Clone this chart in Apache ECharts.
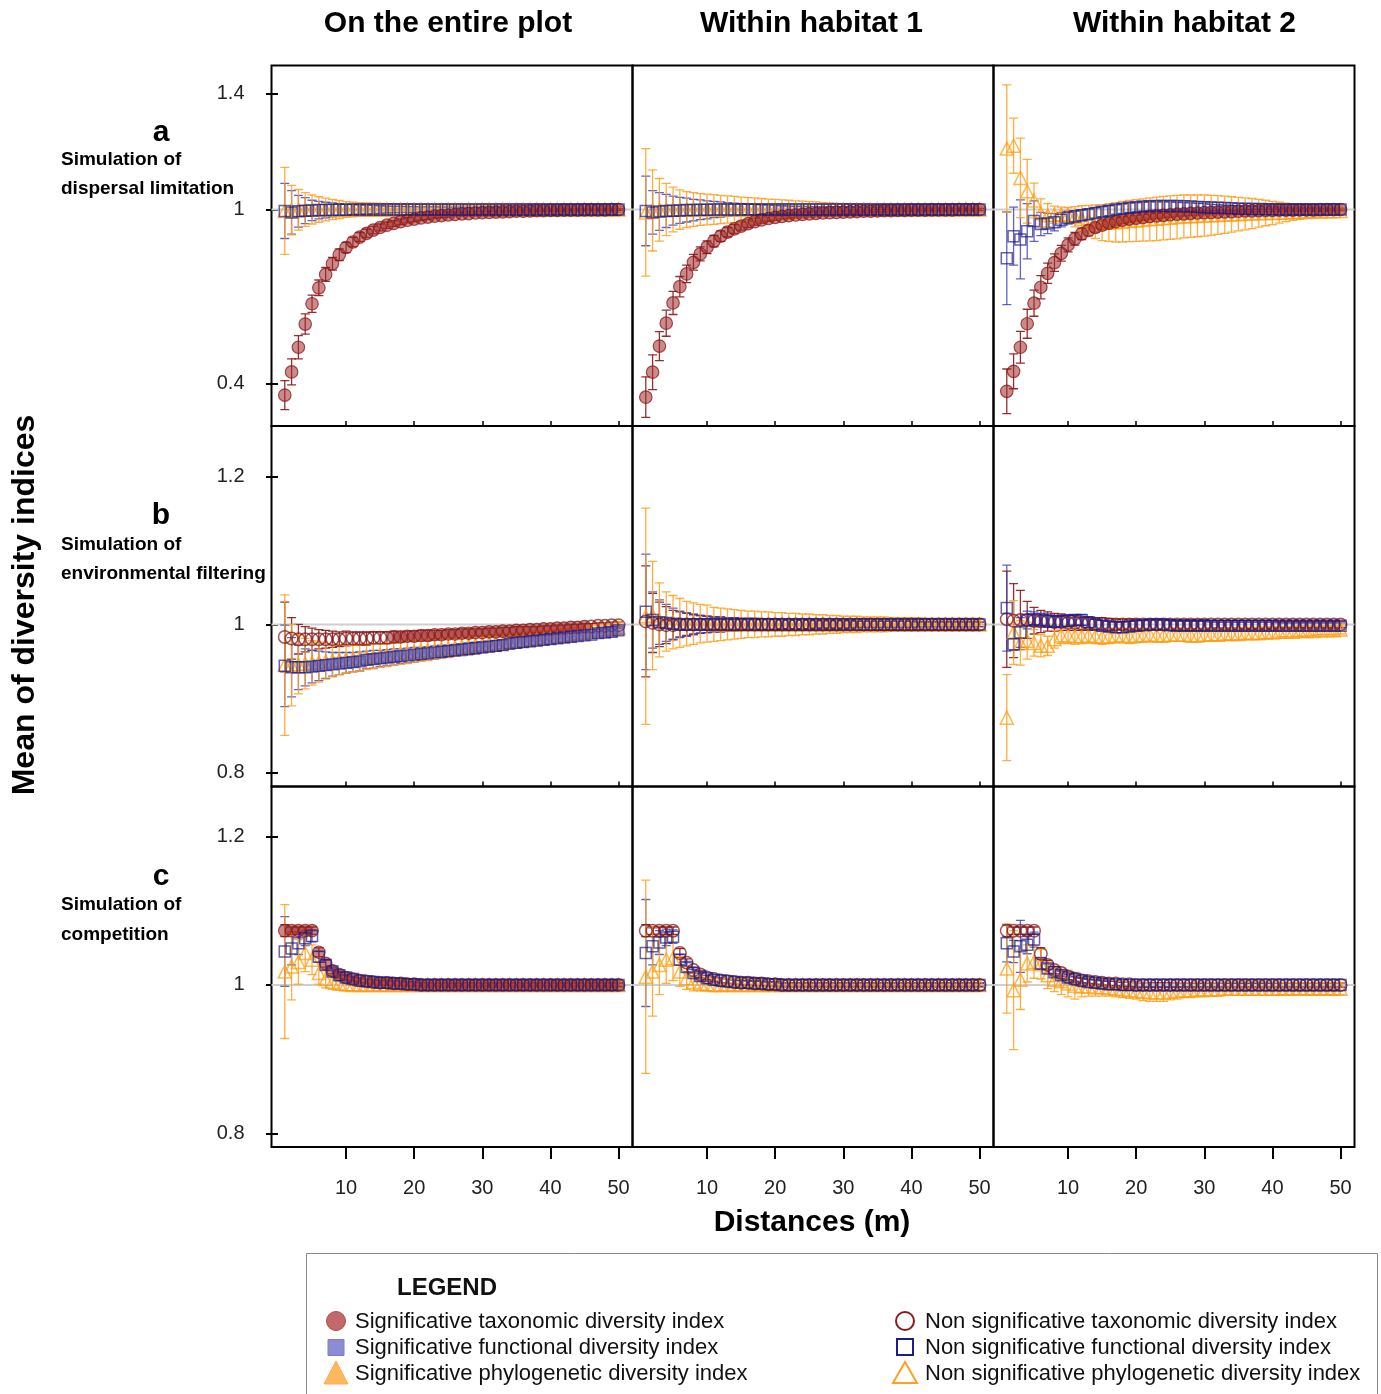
<!DOCTYPE html>
<html><head><meta charset="utf-8">
<script src="https://cdn.jsdelivr.net/npm/echarts@6/dist/echarts.min.js"></script>
<style>html,body{margin:0;padding:0;background:#fff}#chart{width:1381px;height:1394px}</style>
</head><body><div id="chart"></div>
<script>
// ---------------- DATA ----------------
const distances = [1,2,3,4,5,6,7,8,9,10,11,12,13,14,15,16,17,18,19,20,21,22,23,24,25,26,27,28,29,30,31,32,33,34,35,36,37,38,39,40,41,42,43,44,45,46,47,48,49,50];
const xTicks = [10,20,30,40,50];
const yTicksA = [0.4,1,1.4];
const yTicksBC = [0.8,1,1.2];
const refValue = 1;
const columnTitles = ['On the entire plot','Within habitat 1','Within habitat 2'];
const rowLetters = ['a','b','c'];
const rowLabels = [['Simulation of','dispersal limitation'],['Simulation of','environmental filtering'],['Simulation of','competition']];
const xTitle = 'Distances (m)';
const yTitle = 'Mean of diversity indices';
const legendTitle = 'LEGEND';
const legendSig = ['Significative taxonomic diversity index','Significative functional diversity index','Significative phylogenetic diversity index'];
const legendNonSig = ['Non significative taxonomic diversity index','Non significative functional diversity index','Non significative phylogenetic diversity index'];

// Row a : dispersal limitation
const a1Tax = [0.36,0.44,0.525,0.605,0.675,0.73,0.776,0.813,0.844,0.869,0.888,0.905,0.918,0.929,0.938,0.946,0.952,0.958,0.963,0.967,0.971,0.974,0.977,0.979,0.981,0.983,0.985,0.986,0.988,0.989,0.99,0.991,0.992,0.993,0.994,0.994,0.995,0.996,0.996,0.997,0.997,0.998,0.998,0.998,0.999,0.999,0.999,0.999,1,1];
const a1TaxErr = [0.05,0.045,0.04,0.035,0.03,0.027,0.024,0.022,0.02,0.018,0.016,0.015,0.014,0.013,0.012,0.011,0.01,0.01,0.009,0.009,0.008,0.008,0.007,0.007,0.007,0.006,0.006,0.006,0.005,0.005,0.005,0.005,0.004,0.004,0.004,0.004,0.004,0.003,0.003,0.003,0.003,0.003,0.003,0.003,0.002,0.002,0.002,0.002,0.002,0.002];
const a1Fun = [0.995,0.99,0.994,0.996,0.997,0.998,0.998,0.999,0.999,0.999,1,1,1,1,1,1,1,1,1,1,1,1,1,1,1,1,1,1,1,1,1,1,1,1,1,1,1,1,1,1,1,1,1,1,1,1,1,1,1,1];
const a1FunErr = [0.095,0.075,0.055,0.045,0.035,0.03,0.027,0.024,0.021,0.019,0.017,0.016,0.015,0.014,0.013,0.012,0.011,0.011,0.01,0.01,0.009,0.009,0.009,0.008,0.008,0.008,0.008,0.007,0.007,0.007,0.007,0.006,0.006,0.006,0.006,0.006,0.005,0.005,0.005,0.005,0.005,0.005,0.004,0.004,0.004,0.004,0.004,0.004,0.004,0.004];
const a1Phy = [0.995,0.998,0.999,1,1,1,1,1,1,1,1,1,1,1,1,1,1,1,1,1,1,1,1,1,1,1,1,1,1,1,1,1,1,1,1,1,1,1,1,1,1,1,1,1,1,1,1,1,1,1];
const a1PhyErr = [0.15,0.085,0.07,0.058,0.05,0.044,0.039,0.035,0.031,0.027,0.025,0.024,0.023,0.022,0.021,0.02,0.02,0.019,0.019,0.018,0.018,0.017,0.017,0.016,0.016,0.016,0.015,0.015,0.015,0.015,0.014,0.014,0.014,0.013,0.013,0.013,0.013,0.012,0.012,0.012,0.012,0.012,0.011,0.011,0.011,0.011,0.011,0.01,0.01,0.01];

const a2Tax = [0.353,0.439,0.529,0.608,0.678,0.734,0.778,0.818,0.847,0.87,0.891,0.908,0.922,0.933,0.943,0.951,0.958,0.964,0.969,0.973,0.976,0.979,0.981,0.983,0.985,0.987,0.988,0.989,0.99,0.991,0.992,0.993,0.994,0.994,0.995,0.996,0.996,0.997,0.997,0.998,0.998,0.998,0.999,0.999,0.999,0.999,1,1,1,1];
const a2TaxErr = [0.07,0.06,0.05,0.045,0.04,0.035,0.03,0.027,0.024,0.022,0.02,0.018,0.016,0.015,0.014,0.013,0.012,0.011,0.01,0.01,0.009,0.009,0.008,0.008,0.007,0.007,0.007,0.006,0.006,0.006,0.006,0.005,0.005,0.005,0.005,0.004,0.004,0.004,0.004,0.004,0.003,0.003,0.003,0.003,0.003,0.003,0.003,0.003,0.003,0.003];
const a2Fun = [0.995,0.99,0.993,0.995,0.996,0.997,0.998,0.998,0.999,0.999,1,1,1,1,1,1,1,1,1,1,1,1,1,1,1,1,1,1,1,1,1,1,1,1,1,1,1,1,1,1,1,1,1,1,1,1,1,1,1,1];
const a2FunErr = [0.12,0.075,0.065,0.057,0.05,0.045,0.041,0.037,0.034,0.031,0.028,0.026,0.024,0.022,0.02,0.019,0.018,0.016,0.015,0.014,0.013,0.012,0.011,0.011,0.01,0.01,0.009,0.009,0.009,0.008,0.008,0.008,0.007,0.007,0.007,0.007,0.006,0.006,0.006,0.006,0.005,0.005,0.005,0.005,0.005,0.005,0.004,0.004,0.004,0.004];
const a2Phy = [0.99,0.997,0.999,1,1,1,1,1,1,1,1,1,1,1,1,1,1,1,1,1,1,1,1,1,1,1,1,1,1,1,1,1,1,1,1,1,1,1,1,1,1,1,1,1,1,1,1,1,1,1];
const a2PhyErr = [0.22,0.14,0.108,0.09,0.077,0.068,0.062,0.058,0.055,0.053,0.051,0.049,0.047,0.045,0.043,0.041,0.04,0.038,0.036,0.035,0.033,0.032,0.03,0.029,0.027,0.026,0.024,0.023,0.021,0.02,0.019,0.018,0.017,0.016,0.015,0.014,0.014,0.013,0.012,0.012,0.011,0.011,0.01,0.01,0.01,0.009,0.009,0.009,0.008,0.008];

const a3Tax = [0.373,0.442,0.525,0.606,0.677,0.732,0.78,0.817,0.849,0.878,0.899,0.916,0.928,0.938,0.946,0.953,0.958,0.963,0.967,0.97,0.973,0.976,0.978,0.98,0.982,0.984,0.985,0.987,0.988,0.989,0.99,0.991,0.992,0.993,0.994,0.995,0.995,0.996,0.997,0.997,0.998,0.998,0.998,0.999,0.999,0.999,1,1,1,1];
const a3TaxErr = [0.077,0.06,0.055,0.05,0.045,0.04,0.035,0.03,0.027,0.024,0.022,0.02,0.018,0.016,0.015,0.014,0.013,0.012,0.011,0.01,0.01,0.009,0.009,0.008,0.008,0.008,0.007,0.007,0.007,0.006,0.006,0.006,0.006,0.005,0.005,0.005,0.005,0.004,0.004,0.004,0.004,0.004,0.003,0.003,0.003,0.003,0.003,0.003,0.003,0.003];
const a3Fun = [0.832,0.908,0.897,0.925,0.96,0.95,0.952,0.956,0.965,0.972,0.976,0.98,0.984,0.988,0.992,0.996,1,1.003,1.006,1.008,1.01,1.011,1.012,1.012,1.012,1.012,1.011,1.01,1.009,1.008,1.007,1.006,1.005,1.004,1.003,1.003,1.002,1.002,1.001,1.001,1,1,1,1,1,1,1,1,1,1];
const a3FunErr = [0.16,0.1,0.136,0.095,0.07,0.04,0.035,0.03,0.025,0.022,0.02,0.019,0.018,0.018,0.017,0.017,0.016,0.016,0.016,0.015,0.015,0.015,0.014,0.014,0.014,0.013,0.013,0.013,0.012,0.012,0.011,0.011,0.01,0.01,0.01,0.009,0.009,0.009,0.008,0.008,0.007,0.007,0.007,0.006,0.006,0.006,0.006,0.005,0.005,0.005];
const a3Phy = [1.21,1.22,1.109,1.063,1.031,0.987,0.98,0.982,0.983,0.982,0.975,0.968,0.962,0.958,0.955,0.955,0.956,0.958,0.96,0.962,0.964,0.966,0.968,0.97,0.972,0.974,0.976,0.977,0.978,0.979,0.98,0.981,0.982,0.983,0.984,0.985,0.986,0.987,0.988,0.988,0.989,0.99,0.991,0.991,0.992,0.993,0.993,0.994,0.994,0.995];
const a3PhyErr = [0.22,0.095,0.137,0.11,0.06,0.05,0.04,0.03,0.025,0.025,0.035,0.045,0.052,0.058,0.062,0.065,0.068,0.07,0.071,0.072,0.073,0.074,0.075,0.075,0.075,0.075,0.074,0.073,0.072,0.071,0.069,0.067,0.064,0.061,0.058,0.055,0.052,0.048,0.044,0.04,0.036,0.032,0.028,0.025,0.022,0.019,0.016,0.014,0.012,0.01];

// Row b : environmental filtering
const b1Tax = [0.983,0.981,0.98,0.98,0.98,0.98,0.98,0.98,0.98,0.981,0.981,0.981,0.981,0.982,0.982,0.982,0.983,0.983,0.984,0.984,0.985,0.985,0.986,0.986,0.987,0.987,0.988,0.988,0.989,0.989,0.99,0.99,0.991,0.991,0.992,0.992,0.993,0.993,0.994,0.994,0.995,0.995,0.996,0.996,0.997,0.997,0.998,0.998,0.999,0.999];
const b1TaxErr = [0.047,0.028,0.02,0.017,0.015,0.013,0.012,0.011,0.01,0.01,0.009,0.009,0.009,0.008,0.008,0.008,0.008,0.007,0.007,0.007,0.007,0.007,0.006,0.006,0.006,0.006,0.006,0.006,0.005,0.005,0.005,0.005,0.005,0.005,0.005,0.005,0.004,0.004,0.004,0.004,0.004,0.004,0.004,0.004,0.004,0.004,0.004,0.004,0.004,0.004];
const b1Fun = [0.944,0.942,0.942,0.942,0.943,0.944,0.945,0.946,0.947,0.948,0.949,0.95,0.952,0.953,0.954,0.955,0.956,0.957,0.958,0.959,0.96,0.961,0.962,0.963,0.964,0.965,0.966,0.967,0.968,0.969,0.97,0.971,0.972,0.974,0.975,0.976,0.977,0.978,0.979,0.98,0.981,0.982,0.983,0.984,0.985,0.986,0.988,0.989,0.99,0.992];
const b1FunErr = [0.055,0.04,0.03,0.025,0.022,0.02,0.018,0.016,0.015,0.014,0.013,0.013,0.012,0.012,0.011,0.011,0.011,0.01,0.01,0.01,0.009,0.009,0.009,0.009,0.008,0.008,0.008,0.008,0.008,0.007,0.007,0.007,0.007,0.007,0.007,0.006,0.006,0.006,0.006,0.006,0.006,0.006,0.005,0.005,0.005,0.005,0.005,0.005,0.005,0.005];
const b1Phy = [0.945,0.945,0.946,0.947,0.948,0.949,0.95,0.951,0.952,0.953,0.954,0.955,0.956,0.957,0.958,0.959,0.96,0.961,0.962,0.963,0.964,0.965,0.966,0.967,0.968,0.969,0.97,0.971,0.972,0.973,0.974,0.975,0.976,0.977,0.978,0.979,0.98,0.981,0.982,0.983,0.984,0.985,0.986,0.987,0.988,0.99,0.991,0.992,0.993,0.995];
const b1PhyErr = [0.095,0.055,0.04,0.034,0.03,0.027,0.024,0.022,0.02,0.019,0.018,0.018,0.017,0.017,0.016,0.016,0.015,0.015,0.015,0.014,0.014,0.014,0.013,0.013,0.013,0.012,0.012,0.012,0.012,0.011,0.011,0.011,0.011,0.01,0.01,0.01,0.01,0.01,0.009,0.009,0.009,0.009,0.009,0.008,0.008,0.008,0.008,0.008,0.007,0.007];

const b2Tax = [1.004,1.002,1,0.999,0.999,1,1,1,1,1,1,1,1,1,1,1,1,1,1,1,1,1,1,1,1,1,1,1,1,1,1,1,1,1,1,1,1,1,1,1,1,1,1,1,1,1,1,1,1,1];
const b2TaxErr = [0.075,0.04,0.03,0.025,0.02,0.017,0.015,0.013,0.012,0.011,0.01,0.01,0.009,0.009,0.008,0.008,0.008,0.007,0.007,0.007,0.006,0.006,0.006,0.006,0.006,0.005,0.005,0.005,0.005,0.005,0.005,0.004,0.004,0.004,0.004,0.004,0.004,0.004,0.004,0.004,0.003,0.003,0.003,0.003,0.003,0.003,0.003,0.003,0.003,0.003];
const b2Fun = [1.017,1.006,1.003,1.002,1.001,1,1,1,1,1,1,1,1,1,1,1,1,1,1,1,1,1,1,1,1,1,1,1,1,1,1,1,1,1,1,1,1,1,1,1,1,1,1,1,1,1,1,1,1,1];
const b2FunErr = [0.078,0.038,0.03,0.025,0.021,0.018,0.016,0.014,0.012,0.011,0.01,0.01,0.009,0.009,0.008,0.008,0.008,0.007,0.007,0.007,0.006,0.006,0.006,0.006,0.006,0.005,0.005,0.005,0.005,0.005,0.005,0.004,0.004,0.004,0.004,0.004,0.004,0.004,0.004,0.004,0.003,0.003,0.003,0.003,0.003,0.003,0.003,0.003,0.003,0.003];
const b2Phy = [1.011,1.012,1.006,1.004,1.003,1.002,1.001,1.001,1.001,1.001,1,1,1,1,1,1,1,1,1,1,1,1,1,1,1,1,1,1,1,1,1,1,1,1,1,1,1,1,1,1,1,1,1,1,1,1,1,1,1,1];
const b2PhyErr = [0.146,0.073,0.05,0.04,0.036,0.033,0.03,0.028,0.026,0.025,0.023,0.022,0.021,0.02,0.019,0.018,0.018,0.017,0.017,0.016,0.016,0.015,0.015,0.014,0.014,0.013,0.013,0.012,0.012,0.011,0.011,0.011,0.01,0.01,0.01,0.01,0.009,0.009,0.009,0.009,0.009,0.008,0.008,0.008,0.008,0.008,0.008,0.008,0.008,0.008];

const b3Tax = [1.007,1.005,1.006,1.006,1.005,1.004,1.004,1.003,1.003,1.002,1.002,1.001,1.001,1.001,1.001,1,1,1,1,1,1,1,1,1,1,1,1,1,1,1,1,1,1,1,1,1,1,1,1,1,1,1,1,1,1,1,1,1,1,1];
const b3TaxErr = [0.065,0.05,0.04,0.025,0.018,0.015,0.013,0.012,0.011,0.01,0.01,0.009,0.009,0.008,0.008,0.008,0.007,0.007,0.007,0.007,0.006,0.006,0.006,0.006,0.006,0.006,0.006,0.006,0.006,0.006,0.005,0.005,0.005,0.005,0.005,0.005,0.005,0.005,0.005,0.005,0.004,0.004,0.004,0.004,0.004,0.004,0.004,0.004,0.004,0.004];
const b3Fun = [1.022,0.973,0.989,1.006,1.007,1.006,1.005,1.004,1.004,1.005,1.006,1.006,1.003,1,0.998,0.997,0.996,0.996,0.997,0.998,0.999,1,1,1,0.999,0.998,0.998,0.998,0.998,0.998,0.998,0.998,0.998,0.998,0.998,0.998,0.998,0.998,0.998,0.998,0.998,0.998,0.998,0.998,0.998,0.998,0.998,0.998,0.998,0.998];
const b3FunErr = [0.058,0.008,0.02,0.012,0.01,0.009,0.009,0.008,0.008,0.008,0.007,0.007,0.007,0.007,0.007,0.007,0.007,0.007,0.007,0.007,0.006,0.006,0.006,0.006,0.006,0.006,0.006,0.006,0.006,0.006,0.005,0.005,0.005,0.005,0.005,0.005,0.005,0.005,0.005,0.005,0.004,0.004,0.004,0.004,0.004,0.004,0.004,0.004,0.004,0.004];
const b3Phy = [0.874,0.989,0.975,0.978,0.975,0.971,0.971,0.98,0.985,0.985,0.984,0.984,0.985,0.984,0.983,0.984,0.985,0.985,0.984,0.985,0.985,0.986,0.985,0.985,0.986,0.986,0.986,0.985,0.985,0.986,0.986,0.986,0.987,0.987,0.987,0.988,0.988,0.988,0.989,0.989,0.99,0.99,0.99,0.991,0.991,0.991,0.992,0.992,0.992,0.993];
const b3PhyErr = [0.058,0.043,0.03,0.025,0.018,0.015,0.013,0.012,0.011,0.011,0.011,0.01,0.01,0.01,0.01,0.01,0.01,0.01,0.01,0.01,0.009,0.009,0.009,0.009,0.009,0.009,0.009,0.009,0.009,0.009,0.008,0.008,0.008,0.008,0.008,0.008,0.008,0.008,0.008,0.008,0.007,0.007,0.007,0.007,0.007,0.006,0.006,0.006,0.006,0.006];

// Row c : competition
const c1Tax = [1.073,1.073,1.073,1.073,1.073,1.044,1.029,1.019,1.014,1.01,1.008,1.006,1.005,1.004,1.003,1.003,1.002,1.002,1.001,1.001,1,1,1,1,1,1,1,1,1,1,1,1,1,1,1,1,1,1,1,1,1,1,1,1,1,1,1,1,1,1];
const c1TaxErr = [0.008,0.005,0.005,0.005,0.005,0.006,0.005,0.004,0.004,0.003,0.003,0.003,0.003,0.003,0.003,0.003,0.003,0.003,0.003,0.003,0.002,0.002,0.002,0.002,0.002,0.002,0.002,0.002,0.002,0.002,0.002,0.002,0.002,0.002,0.002,0.002,0.002,0.002,0.002,0.002,0.002,0.002,0.002,0.002,0.002,0.002,0.002,0.002,0.002,0.002];
const c1Fun = [1.045,1.049,1.056,1.063,1.066,1.038,1.027,1.018,1.013,1.01,1.008,1.006,1.005,1.004,1.003,1.003,1.002,1.002,1.001,1.001,1,1,1,1,1,1,1,1,1,1,1,1,1,1,1,1,1,1,1,1,1,1,1,1,1,1,1,1,1,1];
const c1FunErr = [0.047,0.022,0.015,0.01,0.008,0.007,0.006,0.005,0.004,0.004,0.003,0.003,0.003,0.003,0.003,0.003,0.003,0.003,0.003,0.003,0.003,0.003,0.003,0.003,0.003,0.003,0.003,0.003,0.003,0.003,0.003,0.003,0.003,0.003,0.003,0.003,0.003,0.003,0.003,0.003,0.003,0.003,0.003,0.003,0.003,0.003,0.003,0.003,0.003,0.003];
const c1Phy = [1.018,1.025,1.031,1.043,1.034,1.016,1.008,1.004,1.002,1.001,1,1,1,1,1,1,1,1,1,1,1,1,1,1,1,1,1,1,1,1,1,1,1,1,1,1,1,1,1,1,1,1,1,1,1,1,1,1,1,1];
const c1PhyErr = [0.09,0.045,0.03,0.025,0.02,0.015,0.012,0.01,0.009,0.009,0.008,0.008,0.008,0.008,0.008,0.008,0.008,0.008,0.008,0.008,0.007,0.007,0.007,0.007,0.007,0.007,0.007,0.007,0.007,0.007,0.007,0.007,0.007,0.007,0.007,0.007,0.007,0.007,0.007,0.007,0.006,0.006,0.006,0.006,0.006,0.006,0.006,0.006,0.006,0.006];

const c2Tax = [1.073,1.073,1.073,1.073,1.073,1.043,1.03,1.02,1.014,1.01,1.008,1.006,1.005,1.004,1.003,1.003,1.002,1.002,1.001,1.001,1,1,1,1,1,1,1,1,1,1,1,1,1,1,1,1,1,1,1,1,1,1,1,1,1,1,1,1,1,1];
const c2TaxErr = [0.008,0.005,0.005,0.005,0.005,0.006,0.005,0.004,0.004,0.003,0.003,0.003,0.003,0.003,0.003,0.003,0.003,0.003,0.003,0.003,0.002,0.002,0.002,0.002,0.002,0.002,0.002,0.002,0.002,0.002,0.002,0.002,0.002,0.002,0.002,0.002,0.002,0.002,0.002,0.002,0.002,0.002,0.002,0.002,0.002,0.002,0.002,0.002,0.002,0.002];
const c2Fun = [1.043,1.052,1.057,1.064,1.065,1.034,1.024,1.016,1.012,1.009,1.007,1.006,1.005,1.004,1.003,1.003,1.002,1.002,1.001,1.001,1,1,1,1,1,1,1,1,1,1,1,1,1,1,1,1,1,1,1,1,1,1,1,1,1,1,1,1,1,1];
const c2FunErr = [0.072,0.025,0.016,0.011,0.009,0.007,0.006,0.005,0.004,0.004,0.003,0.003,0.003,0.003,0.003,0.003,0.003,0.003,0.003,0.003,0.003,0.003,0.003,0.003,0.003,0.003,0.003,0.003,0.003,0.003,0.003,0.003,0.003,0.003,0.003,0.003,0.003,0.003,0.003,0.003,0.003,0.003,0.003,0.003,0.003,0.003,0.003,0.003,0.003,0.003];
const c2Phy = [1.011,1.018,1.027,1.034,1.036,1.018,1.009,1.004,1.002,1.001,1,1,1,1,1,1,1,1,1,1,1,1,1,1,1,1,1,1,1,1,1,1,1,1,1,1,1,1,1,1,1,1,1,1,1,1,1,1,1,1];
const c2PhyErr = [0.13,0.06,0.04,0.032,0.03,0.02,0.015,0.012,0.01,0.009,0.009,0.008,0.008,0.008,0.008,0.008,0.008,0.008,0.008,0.008,0.007,0.007,0.007,0.007,0.007,0.007,0.007,0.007,0.007,0.007,0.007,0.007,0.007,0.007,0.007,0.007,0.007,0.007,0.007,0.007,0.007,0.007,0.007,0.007,0.007,0.007,0.007,0.007,0.007,0.007];

const c3Tax = [1.073,1.073,1.073,1.073,1.073,1.042,1.027,1.02,1.016,1.011,1.008,1.006,1.005,1.004,1.003,1.002,1.002,1.001,1.001,1,1,1,1,1,1,1,1,1,1,1,1,1,1,1,1,1,1,1,1,1,1,1,1,1,1,1,1,1,1,1];
const c3TaxErr = [0.008,0.005,0.005,0.005,0.005,0.008,0.006,0.005,0.004,0.004,0.003,0.003,0.003,0.003,0.003,0.003,0.003,0.003,0.003,0.003,0.003,0.003,0.003,0.003,0.003,0.003,0.003,0.003,0.003,0.003,0.003,0.003,0.003,0.003,0.003,0.003,0.003,0.003,0.003,0.003,0.003,0.003,0.003,0.003,0.003,0.003,0.003,0.003,0.003,0.003];
const c3Fun = [1.056,1.045,1.052,1.054,1.061,1.029,1.022,1.017,1.013,1.01,1.008,1.006,1.004,1.003,1.002,1.001,1.001,1,1,1,1,1,1,1,1,1,1,1,1,1,1,1,1,1,1,1,1,1,1,1,1,1,1,1,1,1,1,1,1,1];
const c3FunErr = [0.025,0.015,0.035,0.012,0.01,0.008,0.006,0.005,0.005,0.004,0.004,0.004,0.004,0.004,0.004,0.004,0.004,0.004,0.004,0.004,0.003,0.003,0.003,0.003,0.003,0.003,0.003,0.003,0.003,0.003,0.003,0.003,0.003,0.003,0.003,0.003,0.003,0.003,0.003,0.003,0.003,0.003,0.003,0.003,0.003,0.003,0.003,0.003,0.003,0.003];
const c3Phy = [1.022,0.993,1.007,1.029,1.031,1.028,1.013,1.007,1.005,1.002,0.999,0.998,0.998,0.997,0.997,0.996,0.995,0.994,0.993,0.992,0.991,0.99,0.99,0.99,0.991,0.992,0.993,0.993,0.994,0.994,0.994,0.994,0.995,0.995,0.995,0.995,0.995,0.995,0.995,0.995,0.995,0.995,0.995,0.995,0.995,0.995,0.995,0.995,0.995,0.995];
const c3PhyErr = [0.06,0.08,0.04,0.025,0.022,0.02,0.018,0.016,0.018,0.018,0.018,0.014,0.013,0.012,0.012,0.011,0.011,0.011,0.011,0.011,0.012,0.012,0.012,0.012,0.011,0.011,0.01,0.01,0.01,0.01,0.009,0.009,0.009,0.009,0.009,0.009,0.009,0.009,0.009,0.009,0.008,0.008,0.008,0.008,0.008,0.008,0.008,0.008,0.008,0.008];

// Significant distance ranges [from, to] (filled markers)
const a1TaxSig = [[1,50]], a1FunSig = [], a1PhySig = [];
const a2TaxSig = [[1,50]], a2FunSig = [], a2PhySig = [];
const a3TaxSig = [[1,50]], a3FunSig = [], a3PhySig = [];
const b1TaxSig = [[17,45]], b1FunSig = [[5,50]], b1PhySig = [];
const b2TaxSig = [], b2FunSig = [], b2PhySig = [];
const b3TaxSig = [], b3FunSig = [], b3PhySig = [];
const c1TaxSig = [[1,50]], c1FunSig = [], c1PhySig = [];
const c2TaxSig = [], c2FunSig = [], c2PhySig = [];
const c3TaxSig = [], c3FunSig = [], c3PhySig = [];

// ---------------- LAYOUT / STYLE ----------------
const FONT = "'Liberation Sans', Arial, Helvetica, sans-serif";
const GRID_LEFT0 = 271.5, COL_W = 361, ROW_TOPS = [65.5, 426, 786.5], ROW_H = 360.5;
const Y_RANGES = [[0.2535, 1.4966], [0.781, 1.268], [0.782, 1.267]];
const X_RANGE = [-0.95, 52.05];

const STYLES = {
  tax: {symbol:'circle', size:12.5, stroke:'rgba(130,20,20,0.9)', fill:'rgba(160,40,40,0.68)', err:'rgba(139,26,26,0.9)'},
  fun: {symbol:'rect', size:11, stroke:'rgba(25,25,135,0.85)', fill:'rgba(80,80,190,0.6)', err:'rgba(60,60,180,0.8)'},
  phy: {symbol:'triangle', size:13, stroke:'rgba(255,155,10,0.9)', fill:'rgba(255,170,60,0.7)', err:'rgba(255,160,30,0.85)'}
};
// drawing order (bottom -> top)
const ERR_ORDER = ['tax','fun','phy'];
const MARK_ORDER = ['phy','tax','fun'];

const panels = [
  {r:0,c:0, tax:[a1Tax,a1TaxErr,a1TaxSig], fun:[a1Fun,a1FunErr,a1FunSig], phy:[a1Phy,a1PhyErr,a1PhySig]},
  {r:0,c:1, tax:[a2Tax,a2TaxErr,a2TaxSig], fun:[a2Fun,a2FunErr,a2FunSig], phy:[a2Phy,a2PhyErr,a2PhySig]},
  {r:0,c:2, tax:[a3Tax,a3TaxErr,a3TaxSig], fun:[a3Fun,a3FunErr,a3FunSig], phy:[a3Phy,a3PhyErr,a3PhySig]},
  {r:1,c:0, tax:[b1Tax,b1TaxErr,b1TaxSig], fun:[b1Fun,b1FunErr,b1FunSig], phy:[b1Phy,b1PhyErr,b1PhySig]},
  {r:1,c:1, tax:[b2Tax,b2TaxErr,b2TaxSig], fun:[b2Fun,b2FunErr,b2FunSig], phy:[b2Phy,b2PhyErr,b2PhySig]},
  {r:1,c:2, tax:[b3Tax,b3TaxErr,b3TaxSig], fun:[b3Fun,b3FunErr,b3FunSig], phy:[b3Phy,b3PhyErr,b3PhySig]},
  {r:2,c:0, tax:[c1Tax,c1TaxErr,c1TaxSig], fun:[c1Fun,c1FunErr,c1FunSig], phy:[c1Phy,c1PhyErr,c1PhySig]},
  {r:2,c:1, tax:[c2Tax,c2TaxErr,c2TaxSig], fun:[c2Fun,c2FunErr,c2FunSig], phy:[c2Phy,c2PhyErr,c2PhySig]},
  {r:2,c:2, tax:[c3Tax,c3TaxErr,c3TaxSig], fun:[c3Fun,c3FunErr,c3FunSig], phy:[c3Phy,c3PhyErr,c3PhySig]}
];

function isSig(ranges, x){ return ranges.some(([a,b]) => x >= a && x <= b); }

const grids = [], xAxes = [], yAxes = [], series = [];
panels.forEach((p, k) => {
  const bottom = p.r === 2, left = p.c === 0;
  const yT = p.r === 0 ? yTicksA : yTicksBC;
  grids.push({left: GRID_LEFT0 + p.c*COL_W, top: ROW_TOPS[p.r], width: COL_W, height: ROW_H,
    show: true, borderColor: '#000', borderWidth: 2, backgroundColor: 'transparent'});
  xAxes.push({gridIndex:k, type:'value', min:X_RANGE[0], max:X_RANGE[1],
    axisLine:{show:false}, splitLine:{show:false},
    axisTick:{show:true, inside:!bottom, length: bottom ? 12 : 5, lineStyle:{color:'#000', width: bottom ? 2 : 1.5}, customValues: xTicks},
    axisLabel:{show:bottom, customValues: xTicks, fontSize:20, color:'#222', margin:31, fontFamily:FONT}});
  yAxes.push({gridIndex:k, type:'value', min:Y_RANGES[p.r][0], max:Y_RANGES[p.r][1],
    axisLine:{show:false}, splitLine:{show:false},
    axisTick:{show:left, inside:false, length:12, lineStyle:{color:'#000', width:2}, customValues: yT},
    axisLabel:{show:left, customValues: yT, fontSize:20, color:'#222', margin:27, fontFamily:FONT}});

  // reference line at 1
  series.push({type:'custom', xAxisIndex:k, yAxisIndex:k, z:1, silent:true, data:[[0, refValue]],
    renderItem: (params, api) => {
      const cs = params.coordSys; const y = api.coord([0, api.value(1)])[1];
      return {type:'line', shape:{x1:cs.x, y1:y, x2:cs.x + cs.width, y2:y}, style:{stroke:'#cfcfcf', lineWidth:2}};
    }});

  ERR_ORDER.forEach((key, j) => {
    const [mean, err] = p[key]; const st = STYLES[key];
    series.push({type:'custom', xAxisIndex:k, yAxisIndex:k, z:2 + j, silent:true, clip:true,
      encode:{x:0, y:1},
      data: distances.map((d, i) => [d, mean[i], err[i]]),
      renderItem: (params, api) => {
        const x = api.value(0), y = api.value(1), e = api.value(2);
        const t = api.coord([x, y + e]), b = api.coord([x, y - e]); const hw = 4.5;
        const s = {stroke: st.err, lineWidth: 1.3};
        return {type:'group', children:[
          {type:'line', shape:{x1:t[0], y1:t[1], x2:b[0], y2:b[1]}, style:s},
          {type:'line', shape:{x1:t[0]-hw, y1:t[1], x2:t[0]+hw, y2:t[1]}, style:s},
          {type:'line', shape:{x1:b[0]-hw, y1:b[1], x2:b[0]+hw, y2:b[1]}, style:s}
        ]};
      }});
  });
  MARK_ORDER.forEach((key, j) => {
    const [mean, , sig] = p[key]; const st = STYLES[key];
    series.push({type:'scatter', xAxisIndex:k, yAxisIndex:k, z:6 + j, silent:true,
      symbol: st.symbol, symbolSize: st.size,
      data: distances.map((d, i) => ({value:[d, mean[i]],
        itemStyle: isSig(sig, d) ? {color: st.fill, borderColor: st.stroke, borderWidth: 1.2}
                                 : {color: 'rgba(255,255,255,0)', borderColor: st.stroke, borderWidth: 1.5}}))});
  });
});

// ---------------- TEXT & LEGEND GRAPHICS ----------------
const graphics = [];
const colTitleX = [448, 811.5, 1184.5];
columnTitles.forEach((t, i) => graphics.push({type:'text', x: colTitleX[i], y: 24,
  style:{text:t, font:`bold 30px ${FONT}`, fill:'#000', align:'center', verticalAlign:'middle'}}));
const letterY = [133, 516, 877], line1Y = [160, 545, 905], line2Y = [189, 574, 935];
rowLetters.forEach((l, i) => {
  graphics.push({type:'text', x:161, y:letterY[i], style:{text:l, font:`bold 30px ${FONT}`, fill:'#000', align:'center', verticalAlign:'middle'}});
  graphics.push({type:'text', x:61, y:line1Y[i], style:{text:rowLabels[i][0], font:`bold 19px ${FONT}`, fill:'#000', align:'left', verticalAlign:'middle'}});
  graphics.push({type:'text', x:61, y:line2Y[i], style:{text:rowLabels[i][1], font:`bold 19px ${FONT}`, fill:'#000', align:'left', verticalAlign:'middle'}});
});
graphics.push({type:'text', x:812, y:1223, style:{text:xTitle, font:`bold 30px ${FONT}`, fill:'#000', align:'center', verticalAlign:'middle'}});
graphics.push({type:'text', x:25, y:605, rotation:Math.PI/2, style:{text:yTitle, font:`bold 32px ${FONT}`, fill:'#000', align:'center', verticalAlign:'middle'}});

// legend box
graphics.push({type:'rect', shape:{x:306.5, y:1253.5, width:1071, height:160}, style:{fill:'#fff', stroke:'#8a8a8a', lineWidth:1}, z:-1});
graphics.push({type:'text', x:397, y:1288, style:{text:legendTitle, font:`bold 24px ${FONT}`, fill:'#111', align:'left', verticalAlign:'middle'}});
const legRowY = [1322, 1348, 1374];
// significant symbols
graphics.push({type:'circle', shape:{cx:336, cy:1321, r:9.5}, style:{fill:'#c26a6a', stroke:'#a85050', lineWidth:1}});
graphics.push({type:'rect', shape:{x:328, y:1339.5, width:16, height:16}, style:{fill:'#8c8cd6', stroke:'#7c7ccc', lineWidth:1}});
graphics.push({type:'polygon', shape:{points:[[336,1361],[324,1384],[348,1384]]}, style:{fill:'#ffb860', stroke:'#ffac45', lineWidth:1}});
// non-significant symbols
graphics.push({type:'circle', shape:{cx:905, cy:1321, r:9}, style:{fill:'none', stroke:'#8b1a1a', lineWidth:2}});
graphics.push({type:'rect', shape:{x:897, y:1339, width:16, height:16}, style:{fill:'none', stroke:'#1c1c8c', lineWidth:2}});
graphics.push({type:'polygon', shape:{points:[[905,1362],[893,1383],[917,1383]]}, style:{fill:'none', stroke:'#ffa020', lineWidth:2}});
legendSig.forEach((t, i) => graphics.push({type:'text', x:355, y:legRowY[i], style:{text:t, font:`22px ${FONT}`, fill:'#111', align:'left', verticalAlign:'middle'}}));
legendNonSig.forEach((t, i) => graphics.push({type:'text', x:925, y:legRowY[i], style:{text:t, font:`22px ${FONT}`, fill:'#111', align:'left', verticalAlign:'middle'}}));

const chart = echarts.init(document.getElementById('chart'), null, {renderer:'canvas', width:1381, height:1394});
chart.setOption({
  animation:false,
  backgroundColor:'#fff',
  grid: grids, xAxis: xAxes, yAxis: yAxes, series: series,
  graphic: graphics
});
</script>
</body></html>
